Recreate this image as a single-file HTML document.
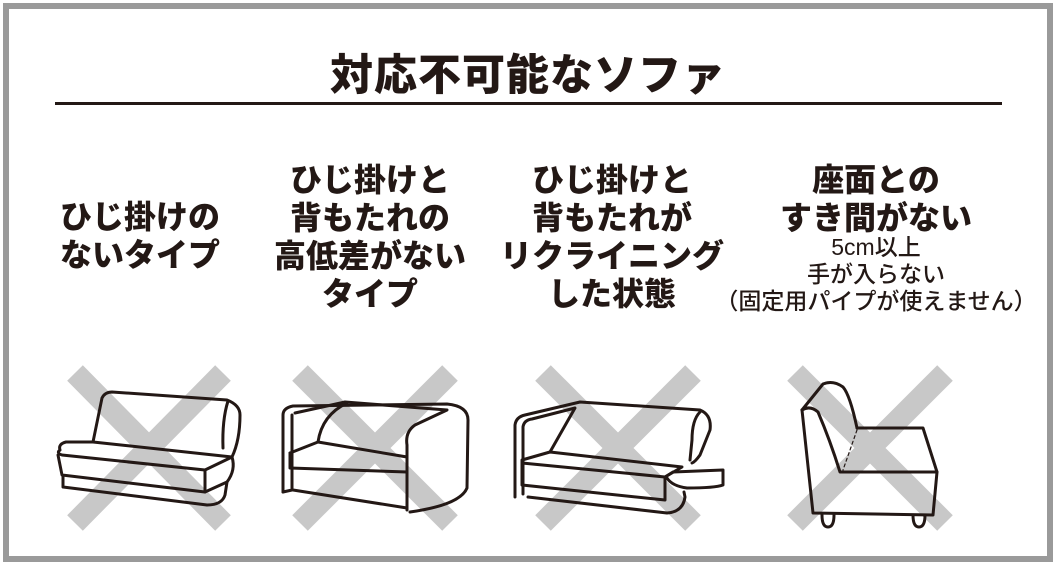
<!DOCTYPE html>
<html><head><meta charset="utf-8"><style>
body{margin:0;width:1056px;height:565px;background:#fff;overflow:hidden;font-family:"Liberation Sans","Noto Sans CJK JP",sans-serif;}
.f{position:absolute;left:3px;top:3px;width:1038px;height:547px;border:6px solid #9a9a9a;}
.t{position:absolute;left:0;width:1056px;text-align:center;top:41px;font-size:43px;font-weight:900;color:#231815;letter-spacing:1px;}
.ln{position:absolute;left:55px;top:102px;width:947px;height:3px;background:#231815;}
.c{position:absolute;text-align:center;font-weight:900;font-size:32px;line-height:38px;color:#231815;width:260px;}
.s{font-weight:500;font-size:23px;line-height:27px;}
</style></head><body>
<div class="f"></div>
<div class="t">対応不可能なソファ</div>
<div class="ln"></div>
<div class="c" style="left:10px;top:198px">ひじ掛けの<br>ないタイプ</div>
<div class="c" style="left:240px;top:161px">ひじ掛けと<br>背もたれの<br>高低差がない<br>タイプ</div>
<div class="c" style="left:482px;top:161px">ひじ掛けと<br>背もたれが<br>リクライニング<br>した状態</div>
<div class="c" style="left:706px;top:161px;width:340px">座面との<br>すき間がない<br><div class="s" style="margin-top:-3px">5cm以上<br>手が入らない<br>（固定用パイプが使えません）</div></div>
<svg width="1056" height="565" style="position:absolute;left:0;top:0">
<g stroke="#c8c8c8" stroke-width="22" fill="none">
<path d="M75 373L223 523M223 373L75 523"/>
<path d="M300 373L450 523M450 373L300 523"/>
<path d="M543 373L693 523M693 373L543 523"/>
<path d="M795 373L945 523M945 373L795 523"/>
</g>
<g stroke="#231815" stroke-width="3" fill="none" stroke-linejoin="round" stroke-linecap="round">
<path d="M93 442L102 398Q105 392 112 392L227 400Q240 405 240 415Q240 440 232 457"/>
<path d="M223 448Q222 420 228 401"/>
<path d="M60 450Q58 444 66 442L93 442L232 457L205 470L62 455Q56 453 60 450Z"/>
<path d="M58 455L62 475L205 492L205 470"/>
<path d="M232 457Q236 470 227 482L205 492"/>
<path d="M63 476L63 487L207 505Q222 505 225 495L227 482"/>
<path d="M283 492L283 415Q283 408 293 406L447 404Q468 406 468 420L467 488Q460 505 410 512"/>
<path d="M283 492L292 490"/>
<path d="M292 415L292 488"/>
<path d="M295 413L345 402L447 410L415 425Q405 432 407 445L407 510"/>
<path d="M347 403Q322 415 318 442"/>
<path d="M290 453L318 442L407 457"/>
<path d="M290 453L290 468L407 472"/>
<path d="M293 490L407 508"/>
<path d="M515 497L515 425Q516 417 525 415L580 402L700 410Q712 415 710 430L700 455Q695 462 692 463"/>
<path d="M523 494L523 427Q524 420 532 419L575 408L550 452"/>
<path d="M700 412Q692 420 692 440L690 460"/>
<path d="M522 460L550 452L682 467L665 477L522 463Z"/>
<path d="M522 463L522 485L665 500L665 477"/>
<path d="M665 477L673 472L723 470L723 485Q715 488 687 488Q672 486 667 478"/>
<path d="M528 497L667 513Q683 512 685 497L684 492"/>
<path d="M802 410L823 384Q833 380 843 387Q850 395 857 428"/>
<path d="M802 410L813 513L933 515L937 472L923 428L857 428"/>
<path d="M802 410Q810 405 818 412Q830 440 840 472L937 472"/>
<path d="M857 430L843 470" stroke-width="1.2" stroke-dasharray="3 3"/>
<path d="M822 515Q822 527 828 527Q834 527 834 515M913 515Q913 527 919 527Q925 527 925 515"/>
</g>
</svg>
</body></html>
